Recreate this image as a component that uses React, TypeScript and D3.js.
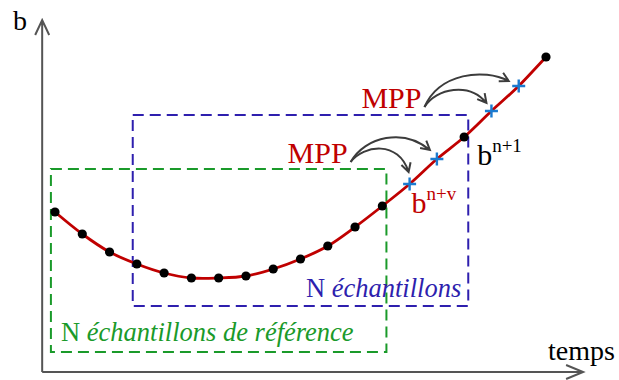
import React, {useEffect, useRef} from 'react';
import * as d3 from "d3";

// samples of b over time (index = sample number)
const samples = [160, 138, 120, 108, 99, 94, 94, 96, 103, 113, 126, 145, 166, 188, 213, 235, 261, 286, 315];
// "dot" = measured sample, "cross" = MPP prediction
const kinds = ["dot", "dot", "dot", "dot", "dot", "dot", "dot", "dot", "dot", "dot", "dot", "dot", "dot",
    "cross", "cross", "dot", "cross", "cross", "dot"];

// sliding windows (sample range, value range)
const windowFrom = [0, 3];
const windowTo = [12, 15];
const windowTop = [203, 257];
const windowBottom = [20, 66];
const windowLabels = ["de référence", ""];
const windowColors = ["#1a9a2a", "#2e1fae"];

// MPP annotations: which samples each label points to
const mppTargets = [[13, 14], [16, 17]];

const W = 619, H = 380;

export default function App() {
    const ref = useRef<SVGSVGElement>(null);

    useEffect(() => {
        const svg = d3.select(ref.current);
        svg.selectAll("*").remove();

        const x = d3.scaleLinear().domain([0, samples.length - 1]).range([55, 546]);
        const y = d3.scaleLinear().domain([0, 350]).range([372, 22]);
        const font = "'Liberation Serif', 'Times New Roman', serif";
        const pt = (i: number) => [x(i), y(samples[i])];

        //axes with open arrow heads
        const x0 = x(-0.47), y0 = y(0);
        const axis = svg.append("g").attr("stroke", "#555").attr("stroke-width", 2).attr("fill", "none");
        axis.append("path").attr("d", `M${x0},${y0} V${y(352)} M${x0 - 7},${y(352) + 15} L${x0},${y(352)} L${x0 + 7},${y(352) + 15}`);
        const xEnd = x(19.36);
        axis.append("path").attr("d", `M${x0},${y0} H${xEnd} M${xEnd - 17},${y0 - 7} L${xEnd},${y0} L${xEnd - 17},${y0 + 7}`);

        svg.append("text").attr("x", 13).attr("y", 30)
            .attr("font-family", font).attr("font-size", 28).text("b");
        svg.append("text").attr("x", 548).attr("y", 360)
            .attr("font-family", font).attr("font-size", 28).text("temps");

        //dashed windows
        windowFrom.forEach((from, k) => {
            const left = x(from - 0.15), right = x(windowTo[k] + 0.15);
            svg.append("rect")
                .attr("x", left).attr("y", y(windowTop[k]))
                .attr("width", right - left).attr("height", y(windowBottom[k]) - y(windowTop[k]))
                .attr("fill", "none").attr("stroke", windowColors[k])
                .attr("stroke-width", 2).attr("stroke-dasharray", "11,6");
        });

        //window labels
        const green = svg.append("text").attr("x", x(windowFrom[0]) + 6).attr("y", y(windowBottom[0]) - 11)
            .attr("font-family", font).attr("font-size", 26.5).attr("fill", windowColors[0]);
        green.append("tspan").text("N ");
        green.append("tspan").attr("font-style", "italic").text("échantillons " + windowLabels[0]);

        const blue = svg.append("text").attr("x", x(windowTo[1] + 0.15) - 7).attr("y", y(windowBottom[1]) - 9)
            .attr("text-anchor", "end")
            .attr("font-family", font).attr("font-size", 26.5).attr("fill", windowColors[1]);
        blue.append("tspan").text("N ");
        blue.append("tspan").attr("font-style", "italic").text("échantillons");

        //the signal
        const line = d3.line<number>()
            .x((d, i) => x(i))
            .y(d => y(d))
            .curve(d3.curveCatmullRom);
        svg.append("path")
            .attr("d", line(samples))
            .attr("fill", "none")
            .attr("stroke", "#c00000")
            .attr("stroke-width", 2.8);

        //markers
        samples.forEach((v, i) => {
            const [px, py] = pt(i);
            if (kinds[i] === "dot") {
                svg.append("circle").attr("cx", px).attr("cy", py).attr("r", 4.6).attr("fill", "#000");
            } else {
                svg.append("path")
                    .attr("d", `M${px - 6.5},${py} H${px + 6.5} M${px},${py - 6.5} V${py + 6.5}`)
                    .attr("stroke", "#1b7bd0").attr("stroke-width", 2.4);
            }
        });

        //MPP labels with curved arrows
        const arrowEnd = [[[-1, -12], [-7, -9]], [[-5, -8], [-10, -5]]];
        const ctrl1 = [[[13, -17], [15, -26]], [[12, -19], [15, -34]]];
        const ctrl2 = [[[-10, -32], [-26, -22]], [[-17, -21], [-25, -13]]];
        mppTargets.forEach((targets, k) => {
            const [ax, ay] = pt(targets[0]);
            const sx = ax - (k === 0 ? 59 : 67), sy = ay - (k === 0 ? 22 : 4);
            svg.append("text").attr("x", sx - 3).attr("y", sy + 1)
                .attr("text-anchor", "end")
                .attr("font-family", font).attr("font-size", 30).attr("fill", "#c00000").text("MPP");
            targets.forEach((t, j) => {
                const [tx, ty] = pt(t);
                const ex = tx + arrowEnd[k][j][0], ey = ty + arrowEnd[k][j][1];
                const c1x = sx + ctrl1[k][j][0], c1y = sy + ctrl1[k][j][1];
                const c2x = ex + ctrl2[k][j][0], c2y = ey + ctrl2[k][j][1];
                const ang = Math.atan2(ey - c2y, ex - c2x);
                const hl = 10, spread = 0.5;
                const h1 = [ex - hl * Math.cos(ang - spread), ey - hl * Math.sin(ang - spread)];
                const h2 = [ex - hl * Math.cos(ang + spread), ey - hl * Math.sin(ang + spread)];
                svg.append("path")
                    .attr("d", `M${sx},${sy} C${c1x},${c1y} ${c2x},${c2y} ${ex},${ey} M${h1[0]},${h1[1]} L${ex},${ey} L${h2[0]},${h2[1]}`)
                    .attr("fill", "none").attr("stroke", "#3c3c3c").attr("stroke-width", 2);
            });
        });

        //sample labels b^{n+v} and b^{n+1}
        const supLabel = (i: number, dx: number, dy: number, sup: string, color: string) => {
            const [px, py] = pt(i);
            const t = svg.append("text").attr("x", px + dx).attr("y", py + dy)
                .attr("font-family", font).attr("font-size", 30).attr("fill", color);
            t.append("tspan").text("b");
            t.append("tspan").attr("font-size", 19).attr("dy", -13).text(sup);
        };
        supLabel(13, 2, 29, "n+v", "#c00000");
        supLabel(15, 13, 28, "n+1", "#000");
    }, []);

    return (
        <svg ref={ref} width={W} height={H} style={{position: "absolute", left: 0, top: 0, background: "#fff"}}/>
    );
}
